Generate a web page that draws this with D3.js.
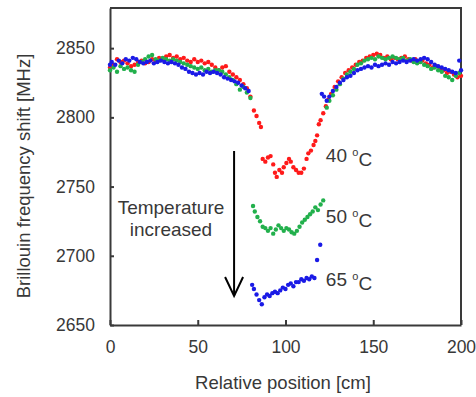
<!DOCTYPE html>
<html>
<head>
<meta charset="utf-8">
<script src="https://cdn.jsdelivr.net/npm/d3@7"></script>
<style>
  body { margin: 0; background: #fff; }
  svg { font-family: 'Liberation Sans', Arial, sans-serif; }
  .axis text { fill: #383838; font-size: 17.5px; }
  .axis path, .axis line { stroke: #3a3a3a; stroke-width: 2; }
</style>
</head>
<body>
<script>
// data: [position cm, Brillouin shift MHz]
const red40 = [
  [0,2836],[2,2838],[4,2842],[6,2840],[8,2841],[10,2839],[12,2837],[14,2838],[16,2840],[18,2841],
  [20,2839],[22,2840],[24,2842],[26,2841],[28,2843],[30,2842],[32,2844],[34,2845],[36,2843],[38,2844],
  [40,2842],[42,2843],[44,2841],[46,2840],[48,2842],[50,2840],[52,2841],[54,2839],[56,2840],[58,2838],
  [60,2836],[62,2834],[64,2836],[66,2837],[68,2833],[70,2831],[72,2829],[74,2827],[76,2824],[78,2821],
  [80,2815],[82,2805],[83.5,2801],[85,2796],[86,2793],
  [87,2770],[88.5,2768],[90,2771],[91.5,2772],[93,2766],[94,2760],[95,2757],[96.5,2762],[98,2760],[99,2764],
  [100.5,2767],[102,2770],[103,2768],[104.5,2764],[106,2762],[107.5,2760],[109,2760],[110.5,2763],[112,2770],
  [113,2774],[114.5,2776],[116,2780],[117,2783],[118,2787],
  [119,2795],[120,2798],[121.5,2803],[123,2808],[124.5,2813],[126,2817],[128,2822],[130,2826],[132,2829],
  [134,2832],[136,2834],[138,2836],[140,2838],[142,2840],[144,2841],[146,2843],[148,2844],[150,2845],
  [152,2846],[154,2845],[156,2843],[158,2844],[160,2842],[162,2843],[164,2842],[166,2843],[168,2844],
  [170,2842],[172,2841],[174,2842],[176,2840],[178,2841],[180,2839],[182,2838],[184,2836],[186,2837],
  [188,2835],[190,2834],[192,2832],[194,2833],[196,2831],[198,2829],[200,2830]
];
const green50 = [
  [0,2834],[2,2836],[4,2833],[6,2837],[8,2835],[10,2836],[12,2834],[14,2833],[16,2838],[18,2840],
  [20,2842],[22,2844],[24,2845],[26,2842],[28,2841],[30,2843],[32,2842],[34,2841],[36,2842],[38,2841],
  [40,2840],[42,2839],[44,2838],[46,2837],[48,2836],[50,2835],[52,2836],[54,2834],[56,2835],[58,2833],
  [60,2834],[62,2834],[64,2833],[66,2831],[68,2829],[70,2827],[72,2824],[74,2820],[76,2822],[78,2818],
  [80,2814],
  [81.5,2736],[82.5,2732],[84,2728],[85.5,2725],[87,2721],[88.5,2720],[90,2718],[91.5,2720],[93,2716],
  [94.5,2719],[96,2722],[97.5,2720],[99,2718],[100.5,2720],[102,2719],[103.5,2717],[105,2716],[106.5,2718],
  [108,2721],[109.5,2724],[111,2726],[112.5,2728],[114,2730],[115.5,2732],[117,2735],[118.5,2733],
  [120,2737],[121.5,2740],
  [123.5,2807],[125,2812],[127,2816],[129,2820],[131,2824],[133,2828],[135,2831],[137,2833],[139,2835],
  [141,2838],[143,2839],[145,2841],[147,2842],[149,2843],[151,2842],[153,2844],[155,2843],[157,2842],
  [159,2843],[161,2844],[163,2843],[165,2842],[167,2843],[169,2841],[171,2842],[173,2840],[175,2839],
  [177,2840],[179,2838],[181,2837],[183,2835],[185,2836],[187,2834],[189,2833],[191,2830],[193,2829],
  [195,2827],[197,2830],[199,2832]
];
const blue65 = [
  [0,2838],[1,2840],[3,2838],[5,2841],[7,2839],[9,2842],[11,2841],[13,2843],[15,2842],[17,2840],
  [19,2839],[21,2840],[23,2841],[25,2839],[27,2840],[29,2841],[31,2840],[33,2839],[35,2840],[37,2839],
  [39,2838],[41,2836],[43,2835],[45,2833],[47,2832],[49,2831],[51,2832],[53,2831],[55,2833],[57,2832],
  [59,2833],[61,2832],[63,2831],[65,2829],[67,2828],[69,2827],[71,2826],[73,2825],[75,2823],[77,2821],
  [79,2819],
  [81,2679],[82,2676],[83.5,2672],[85,2668],[86.5,2665],[88,2670],[89.5,2672],[91,2671],[92.5,2673],
  [94,2674],[95.5,2673],[97,2675],[98.5,2677],[100,2676],[101.5,2679],[103,2680],[104.5,2678],[106,2681],
  [107.5,2681],[109,2683],[110.5,2682],[112,2684],[113.5,2683],[115,2685],[116.5,2684],[118,2697],[119.8,2708],
  [120.7,2817],[122,2815],[123.5,2812],[125,2815],[127,2819],[129,2822],[131,2825],[133,2827],[135,2829],
  [137,2830],[139,2832],[141,2834],[143,2835],[145,2836],[147,2837],[149,2836],[151,2838],[153,2837],
  [155,2838],[157,2839],[159,2838],[161,2840],[163,2839],[165,2840],[167,2841],[169,2840],[171,2841],
  [173,2842],[175,2841],[177,2842],[179,2843],[181,2842],[183,2840],[185,2838],[187,2837],[189,2836],
  [191,2835],[193,2834],[195,2833],[197,2832],[199,2841],[200,2834]
];
const xTicks = [0, 50, 100, 150, 200];
const yTicks = [2650, 2700, 2750, 2800, 2850];
const tempLabels = [
  { t: '40', x: 123, y: 2772.7 },
  { t: '50', x: 123, y: 2728.7 },
  { t: '65', x: 123, y: 2683 }
];

const w = 476;
const h = 397;
const margin = { top: 8, right: 15, bottom: 72, left: 110 };

const xScale = d3.scaleLinear()
  .domain([0, 200])
  .range([margin.left, w - margin.right]);

const yScale = d3.scaleLinear()
  .domain([2650, 2879])
  .range([h - margin.bottom, margin.top]);

const svg = d3.select('body')
  .append('svg')
  .attr('width', w)
  .attr('height', h);

// frame (top + right)
svg.append('path')
  .attr('d', 'M' + xScale(0) + ',' + yScale(2879) + 'H' + xScale(200) + 'V' + yScale(2650))
  .attr('fill', 'none')
  .attr('stroke', '#3a3a3a')
  .attr('stroke-width', 2);

const xAxis = d3.axisBottom(xScale)
  .tickValues(xTicks)
  .tickFormat(d3.format('d'))
  .tickSizeInner(-5)
  .tickSizeOuter(0)
  .tickPadding(16);

const yAxis = d3.axisLeft(yScale)
  .tickValues(yTicks)
  .tickFormat(d3.format('d'))
  .tickSizeInner(-4)
  .tickSizeOuter(0)
  .tickPadding(15);

svg.append('g')
  .attr('class', 'axis')
  .attr('transform', 'translate(0,' + (h - margin.bottom) + ')')
  .call(xAxis);

svg.append('g')
  .attr('class', 'axis')
  .attr('transform', 'translate(' + margin.left + ',0)')
  .call(yAxis);

const series = [
  { data: red40, color: '#ff1a1a' },
  { data: green50, color: '#22b04c' },
  { data: blue65, color: '#1a1ae6' }
];

series.forEach(s => {
  svg.append('g')
    .selectAll('circle')
    .data(s.data)
    .enter()
    .append('circle')
    .attr('cx', d => xScale(d[0]))
    .attr('cy', d => yScale(d[1]))
    .attr('r', 2.2)
    .attr('fill', s.color);
});

// temperature labels
const lab = svg.append('g')
  .selectAll('text')
  .data(tempLabels)
  .enter()
  .append('text')
  .attr('x', d => xScale(d.x))
  .attr('y', d => yScale(d.y))
  .attr('dy', '0.35em')
  .attr('fill', '#383838')
  .style('font-size', '19px');
lab.append('tspan').text(d => d.t + ' ');
lab.append('tspan').text('o').attr('dy', '-0.5em').style('font-size', '11px');
lab.append('tspan').text('C').attr('dy', '0.5em');

// arrow
const ax = xScale(70.7);
svg.append('line')
  .attr('x1', ax).attr('x2', ax)
  .attr('y1', 151).attr('y2', 296)
  .attr('stroke', '#000').attr('stroke-width', 2);
svg.append('path')
  .attr('d', 'M' + (ax - 9) + ',277L' + ax + ',296L' + (ax + 9) + ',277')
  .attr('fill', 'none').attr('stroke', '#000').attr('stroke-width', 2);

svg.append('text')
  .attr('x', 171).attr('y', 207).attr('dy', '0.35em')
  .attr('text-anchor', 'middle').attr('fill', '#383838').style('font-size', '19px')
  .text('Temperature');
svg.append('text')
  .attr('x', 171).attr('y', 229).attr('dy', '0.35em')
  .attr('text-anchor', 'middle').attr('fill', '#383838').style('font-size', '19px')
  .text('increased');

// axis titles
svg.append('text')
  .attr('x', 283).attr('y', 383).attr('dy', '0.35em')
  .attr('text-anchor', 'middle').attr('fill', '#383838').style('font-size', '18.5px')
  .text('Relative position [cm]');

svg.append('text')
  .attr('transform', 'translate(24,176) rotate(-90)')
  .attr('dy', '0.35em')
  .attr('text-anchor', 'middle').attr('fill', '#383838').style('font-size', '18.5px')
  .text('Brillouin frequency shift [MHz]');
</script>
</body>
</html>
